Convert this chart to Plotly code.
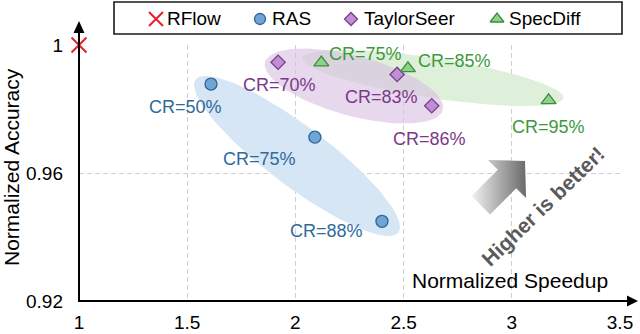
import numpy as np
import plotly.graph_objects as go

# ---------------- data ----------------
rflow_x = [1.0]
rflow_y = [1.0]

ras_x = [1.61, 2.09, 2.40]
ras_y = [0.9878, 0.9712, 0.9449]
ras_cr = ["CR=50%", "CR=75%", "CR=88%"]

ts_x = [1.92, 2.47, 2.63]
ts_y = [0.9946, 0.9908, 0.9810]
ts_cr = ["CR=70%", "CR=83%", "CR=86%"]

sd_x = [2.12, 2.52, 3.17]
sd_y = [0.9945, 0.9927, 0.9827]
sd_cr = ["CR=75%", "CR=85%", "CR=95%"]

x_ticks = [1, 1.5, 2, 2.5, 3, 3.5]
x_ticktext = ["1", "1.5", "2", "2.5", "3", "3.5"]
y_ticks = [0.92, 0.96, 1.0]
y_ticktext = ["0.92", "0.96", "1"]

legend_names = ["RFlow", "RAS", "TaylorSeer", "SpecDiff"]

# ---------------- layout geometry (pixels) ----------------
W, H = 640, 334
X0P, X1P = 79, 620      # x axis pixel extent
Y0P, Y1P = 301, 45      # y axis pixel extent (bottom, top)
XR = [1, 3.5]
YR = [0.92, 1.0]
PX_X = (X1P - X0P) / (XR[1] - XR[0])
PX_Y = (Y0P - Y1P) / (YR[1] - YR[0])

FONT = "Liberation Sans, Arial, sans-serif"

BLUE_F, BLUE_E, BLUE_T, BLUE_BG = "#6fa5d7", "#2f6494", "#2f6a9c", "rgb(214,230,244)"
PUR_F, PUR_E, PUR_T, PUR_BG = "#bf8fd3", "#7a3e8c", "#7a3a86", "rgba(217,190,227,0.6)"
GRN_F, GRN_E, GRN_T, GRN_BG = "#8fd18c", "#3b8e3b", "#3d993d", "rgb(222,240,218)"
RED = "#e8202a"


def px2data(px, py):
    return XR[0] + (px - X0P) / PX_X, YR[1] - (py - Y1P) / PX_Y


def ellipse(cx, cy, a, b, ang_deg):
    t = np.linspace(0, 2 * np.pi, 120)
    ang = np.radians(ang_deg)
    dx = a * np.cos(t) * np.cos(ang) - b * np.sin(t) * np.sin(ang)
    dy = a * np.cos(t) * np.sin(ang) + b * np.sin(t) * np.cos(ang)
    return cx + dx / PX_X, cy - dy / PX_Y


fig = go.Figure()

# ellipses (background groupings)
for (cpx, cpy, a, b, ang, col) in [
    (297, 156, 127, 30, 37, BLUE_BG),
    (433, 78, 132, 20, 8.7, GRN_BG),
    (354, 86, 92, 30, 15, PUR_BG),
]:
    cx, cy = px2data(cpx, cpy)
    ex, ey = ellipse(cx, cy, a, b, ang)
    fig.add_trace(go.Scatter(x=ex, y=ey, mode="lines", fill="toself",
                             fillcolor=col, line=dict(width=0),
                             hoverinfo="skip", showlegend=False))

# data markers
fig.add_trace(go.Scatter(x=rflow_x, y=rflow_y, mode="markers", name=legend_names[0],
                         marker=dict(symbol="x-thin", size=15, line=dict(color=RED, width=2)),
                         cliponaxis=False, showlegend=False))
fig.add_trace(go.Scatter(x=ras_x, y=ras_y, mode="markers", name=legend_names[1],
                         marker=dict(symbol="circle", size=12, color=BLUE_F,
                                     line=dict(color=BLUE_E, width=1.3)),
                         cliponaxis=False, showlegend=False))
fig.add_trace(go.Scatter(x=ts_x, y=ts_y, mode="markers", name=legend_names[2],
                         marker=dict(symbol="diamond", size=11, color=PUR_F,
                                     line=dict(color=PUR_E, width=1.3)),
                         cliponaxis=False, showlegend=False))
fig.add_trace(go.Scatter(x=sd_x, y=sd_y, mode="markers", name=legend_names[3],
                         marker=dict(symbol="triangle-up", size=13, color=GRN_F,
                                     line=dict(color=GRN_E, width=1.3)),
                         cliponaxis=False, showlegend=False))

annotations = []
# CR labels, offsets in pixels (right, down)
label_offsets = {
    "ras": [(-26, 23), (-55, 22), (-55, 10)],
    "ts": [(1, 23), (-16, 23), (-2, 33)],
    "sd": [(44, -9), (47, -7), (0, 27)],
}
for key, xs, ys, texts, col in [
    ("ras", ras_x, ras_y, ras_cr, BLUE_T),
    ("ts", ts_x, ts_y, ts_cr, PUR_T),
    ("sd", sd_x, sd_y, sd_cr, GRN_T),
]:
    for (xv, yv, tx, (ox, oy)) in zip(xs, ys, texts, label_offsets[key]):
        annotations.append(dict(x=xv, y=yv, xref="x", yref="y", text=tx,
                                xanchor="center", yanchor="middle",
                                showarrow=False, xshift=ox, yshift=-oy,
                                font=dict(family=FONT, size=18, color=col)))


def paper(px, py):
    return px / W, 1 - py / H


# axis titles
ax_, ay_ = paper(11, 167)
annotations.append(dict(x=ax_, y=ay_, xref="paper", yref="paper", text="Normalized Accuracy",
                        textangle=-90, showarrow=False, xanchor="center", yanchor="middle",
                        font=dict(family=FONT, size=21, color="black")))
ax_, ay_ = paper(510, 280)
annotations.append(dict(x=ax_, y=ay_, xref="paper", yref="paper", text="Normalized Speedup",
                        showarrow=False, xanchor="center", yanchor="middle",
                        font=dict(family=FONT, size=21, color="black")))
ax_, ay_ = paper(543, 207)
annotations.append(dict(x=ax_, y=ay_, xref="paper", yref="paper", text="<b>Higher is better!</b>",
                        textangle=-44, showarrow=False, xanchor="center", yanchor="middle",
                        font=dict(family=FONT, size=21, color="#5a5a5a")))

# legend (manual, pixel coordinates on an invisible full-figure axis)
leg_marker_px = [156, 260, 351, 497]
leg_text_px = [165, 270, 362, 507]
LEG_Y = 19
leg_styles = [
    dict(symbol="x-thin", size=14, line=dict(color=RED, width=2)),
    dict(symbol="circle", size=11, color=BLUE_F, line=dict(color=BLUE_E, width=1.3)),
    dict(symbol="diamond", size=10, color=PUR_F, line=dict(color=PUR_E, width=1.3)),
    dict(symbol="triangle-up", size=12, color=GRN_F, line=dict(color=GRN_E, width=1.3)),
]
for mx, st, name, tx in zip(leg_marker_px, leg_styles, legend_names, leg_text_px):
    fig.add_trace(go.Scatter(x=[mx], y=[LEG_Y], xaxis="x2", yaxis="y2", mode="markers",
                             marker=st, showlegend=False, hoverinfo="skip", cliponaxis=False))
    lx, ly = paper(tx, LEG_Y)
    annotations.append(dict(x=lx, y=ly, xref="paper", yref="paper", text=name,
                            xanchor="left", yanchor="middle", showarrow=False,
                            font=dict(family=FONT, size=19, color="black")))

# gradient arrow "higher is better"
T = np.array([525.0, 161.0])
d = np.array([1.0, -1.0]) / np.sqrt(2)
n = np.array([1.0, 1.0]) / np.sqrt(2)
B = T - 25.5 * d
C = B - 37 * d
pts = [T, B + 27 * n, B + 13 * n, C + 13 * n, C - 13 * n, B - 13 * n, B - 27 * n, T]
fig.add_trace(go.Scatter(x=[p[0] for p in pts], y=[p[1] for p in pts], xaxis="x2", yaxis="y2",
                         mode="lines", fill="toself", line=dict(width=0, color="rgba(0,0,0,0)"),
                         fillgradient=dict(type="horizontal",
                                           colorscale=[[0, "#f2f2f2"], [1, "#6a6a6a"]]),
                         showlegend=False, hoverinfo="skip"))

shapes = []
# legend box
x0, y0 = paper(114, 2)
x1, y1 = paper(622, 34)
shapes.append(dict(type="rect", xref="paper", yref="paper", x0=x0, y0=y1, x1=x1, y1=y0,
                   line=dict(color="#1a1a1a", width=1.6), fillcolor="rgba(0,0,0,0)"))
# axis lines with arrowheads
shapes.append(dict(type="line", xref="paper", yref="paper",
                   x0=X0P / W, y0=1 - Y0P / H, x1=X0P / W, y1=1 - 32 / H,
                   line=dict(color="black", width=2)))
shapes.append(dict(type="line", xref="paper", yref="paper",
                   x0=(X0P - 1) / W, y0=1 - Y0P / H, x1=628 / W, y1=1 - Y0P / H,
                   line=dict(color="black", width=2)))


def tri_path(p):
    s = "M " + " L ".join(f"{a / W:.5f},{1 - b / H:.5f}" for a, b in p) + " Z"
    return s


shapes.append(dict(type="path", xref="paper", yref="paper",
                   path=tri_path([(X0P, 21), (X0P - 5.5, 33), (X0P + 5.5, 33)]),
                   fillcolor="black", line=dict(width=0)))
shapes.append(dict(type="path", xref="paper", yref="paper",
                   path=tri_path([(638, Y0P), (627, Y0P - 5.5), (627, Y0P + 5.5)]),
                   fillcolor="black", line=dict(width=0)))

axis_font = dict(family=FONT, size=19, color="black")
fig.update_layout(
    width=W, height=H,
    margin=dict(l=0, r=0, t=0, b=0),
    paper_bgcolor="white",
    plot_bgcolor="rgba(0,0,0,0)",
    showlegend=False,
    xaxis=dict(domain=[X0P / W, X1P / W], range=XR, tickvals=x_ticks, ticktext=x_ticktext,
               showgrid=True, gridcolor="#cfcfcf", griddash="5px,3px", gridwidth=1,
               zeroline=False, showline=False, ticks="", tickfont=axis_font,
               ticklabelstandoff=8, automargin=False, fixedrange=True),
    yaxis=dict(domain=[1 - Y0P / H, 1 - Y1P / H], range=YR, tickvals=y_ticks, ticktext=y_ticktext,
               showgrid=True, gridcolor="#cfcfcf", griddash="5px,3px", gridwidth=1,
               zeroline=False, showline=False, ticks="", tickfont=axis_font,
               ticklabelstandoff=15, automargin=False, fixedrange=True),
    xaxis2=dict(domain=[0, 1], range=[0, W], visible=False, anchor="y2", fixedrange=True),
    yaxis2=dict(domain=[0, 1], range=[H, 0], visible=False, anchor="x2", fixedrange=True),
    annotations=annotations,
    shapes=shapes,
)

fig.write_html("out.html", config={"displayModeBar": False},
               post_script="document.body.style.margin='0';document.body.style.padding='0';")
